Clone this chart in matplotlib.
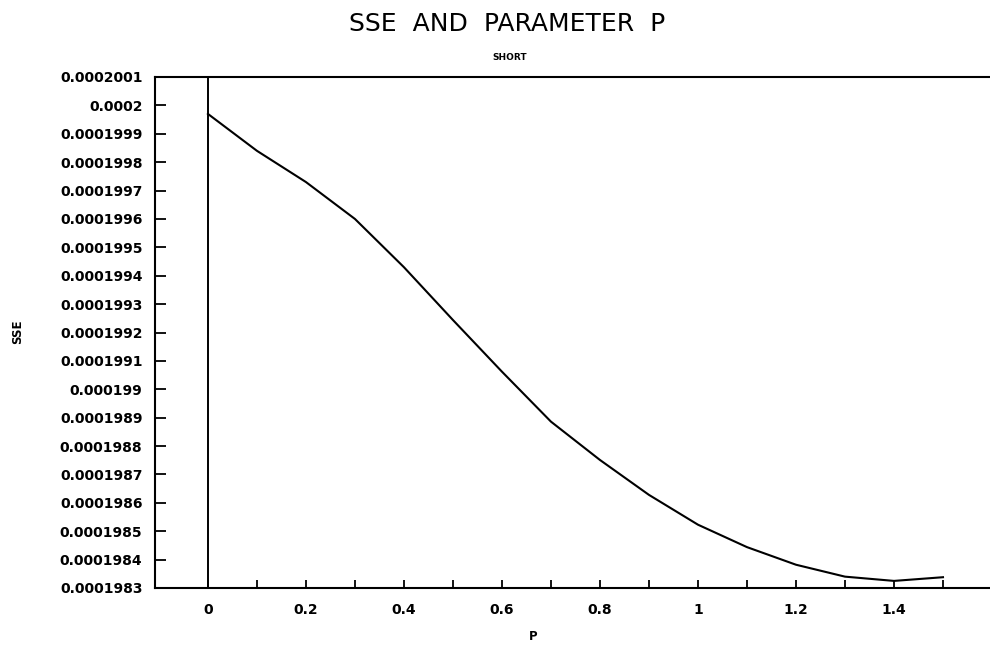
import numpy as np
import matplotlib
matplotlib.use("Agg")
import matplotlib.pyplot as plt

# parameter P and the SSE
p = [0.0, 0.1, 0.2, 0.3, 0.4, 0.5, 0.6, 0.7, 0.8, 0.9, 1.0, 1.1, 1.2, 1.3, 1.4, 1.5]
sse = [0.00019997, 0.00019984, 0.00019973, 0.00019960, 0.00019943,
       0.000199244, 0.000199062, 0.000198886, 0.000198751, 0.000198628,
       0.000198523, 0.000198444, 0.000198382, 0.000198340, 0.000198325,
       0.000198338]

yticks = [0.0001983, 0.0001984, 0.0001985, 0.0001986, 0.0001987, 0.0001988,
          0.0001989, 0.000199, 0.0001991, 0.0001992, 0.0001993, 0.0001994,
          0.0001995, 0.0001996, 0.0001997, 0.0001998, 0.0001999, 0.0002,
          0.0002001]
ytick_labels = ["0.0001983", "0.0001984", "0.0001985", "0.0001986", "0.0001987",
                "0.0001988", "0.0001989", "0.000199", "0.0001991", "0.0001992",
                "0.0001993", "0.0001994", "0.0001995", "0.0001996", "0.0001997",
                "0.0001998", "0.0001999", "0.0002", "0.0002001"]
xticks = [0, 0.2, 0.4, 0.6, 0.8, 1.0, 1.2, 1.4]
xtick_labels = ["0", "0.2", "0.4", "0.6", "0.8", "1", "1.2", "1.4"]
xminor = [0.1, 0.3, 0.5, 0.7, 0.9, 1.1, 1.3, 1.5]

plt.rcParams['font.family'] = ['DejaVu Sans']

fig = plt.figure(figsize=(9.9, 6.46), dpi=100)
ax = fig.add_axes([155/990, 1 - 588/646, (992 - 155)/990, (588 - 77)/646])

ax.plot(p, sse, color='black', linewidth=1.5)
ax.axvline(0, color='black', linewidth=1.4)

ax.set_xlim(-0.108, 1.6)
ax.set_ylim(yticks[0], yticks[-1])

ax.set_yticks(yticks)
ax.set_yticklabels(ytick_labels)
ax.set_xticks(xticks)
ax.set_xticklabels(xtick_labels)
ax.set_xticks(xminor, minor=True)

ax.tick_params(axis='y', direction='in', length=8, width=1.3, pad=9,
               labelsize=10)
ax.tick_params(axis='x', which='both', direction='in', length=6, width=1.3,
               pad=11, labelsize=10)
for lab in ax.get_xticklabels() + ax.get_yticklabels():
    lab.set_fontweight('bold')

for side in ['left', 'bottom', 'top']:
    ax.spines[side].set_linewidth(1.5)
ax.spines['right'].set_visible(False)

fig.text(507/990, 1 - 24/646, "SSE  AND  PARAMETER  P", ha='center', va='center',
         fontsize=18)
fig.text(510/990, 1 - 58/646, "SHORT", ha='center', va='center',
         fontsize=6.5, fontweight='bold')
fig.text(18/990, 1 - 332/646, "SSE", ha='center', va='center', rotation=90,
         fontsize=8.5, fontweight='bold')
fig.text(533/990, 1 - 636/646, "P", ha='center', va='center',
         fontsize=8.5, fontweight='bold')

fig.savefig("out.png", dpi=100)
